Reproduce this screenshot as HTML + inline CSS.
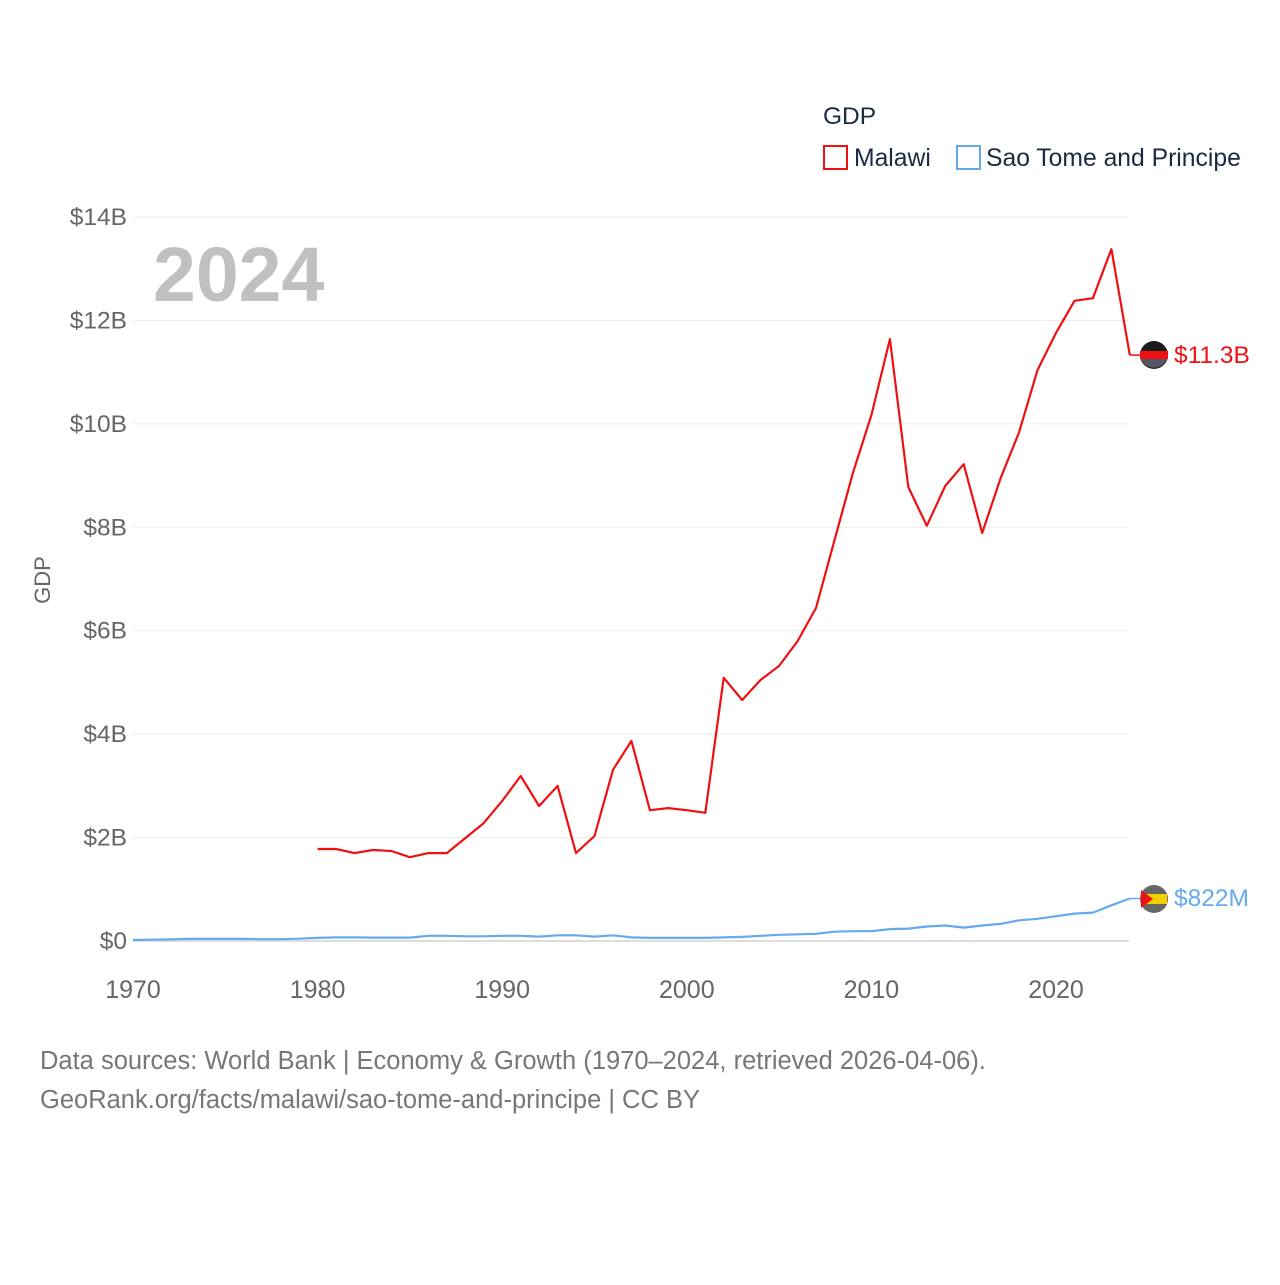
<!DOCTYPE html>
<html><head><meta charset="utf-8"><style>
body{margin:0;background:#fff;font-family:"Liberation Sans",sans-serif;}
svg text{font-family:"Liberation Sans",sans-serif;}
</style></head><body>
<svg width="1280" height="1280" xmlns="http://www.w3.org/2000/svg" id="chart">
<g id="grid"></g>
<g id="yticks"></g>
<g id="xticks"></g>
<text x="153" y="301" font-size="77" font-weight="bold" fill="#c0c0c0">2024</text>
<text transform="translate(50,580) rotate(-90)" text-anchor="middle" font-size="22" fill="#666">GDP</text>
<g>
<text x="823" y="124" font-size="24.5" fill="#1a2a44">GDP</text>
<g><rect x="824" y="146" width="23" height="23" fill="none" stroke="#ee1111" stroke-width="2"/><text x="854" y="166" font-size="24.7" fill="#1a2a44">Malawi</text></g>
<g><rect x="957" y="146" width="23" height="23" fill="none" stroke="#66aaee" stroke-width="2"/><text x="986" y="166" font-size="24.7" fill="#1a2a44">Sao Tome and Principe</text></g>
</g>
<g id="series"></g>
<g>
<g><circle cx="1154" cy="355" r="14" fill="#1b1b1b"/><rect x="1140" y="351" width="28" height="8" fill="#ee1111"/><path d="M1141 359 A14 14 0 0 0 1167 359Z" fill="#556"/></g>
<text x="1174" y="363" font-size="24.5" fill="#ee1111">$11.3B</text>
<g><circle cx="1154" cy="899" r="14" fill="#666"/><rect x="1141" y="894" width="26" height="10" fill="#f5d000"/><path d="M1141 890 L1153 899 L1141 908Z" fill="#ee1111"/></g>
<text x="1174" y="906" font-size="24.5" fill="#66aaee">$822M</text>
</g>
<text x="40" y="1069" font-size="25.5" fill="#777">Data sources: World Bank | Economy &amp; Growth (1970–2024, retrieved 2026-04-06).</text>
<text x="40" y="1108" font-size="25.5" fill="#777">GeoRank.org/facts/malawi/sao-tome-and-principe | CC BY</text>
</svg>
<script>
const yTickValues=[0,2,4,6,8,10,12,14];
const yTickLabels=["$0","$2B","$4B","$6B","$8B","$10B","$12B","$14B"];
const xTickYears=[1970,1980,1990,2000,2010,2020];
const malawiYears=[1980,1981,1982,1983,1984,1985,1986,1987,1988,1989,1990,1991,1992,1993,1994,1995,1996,1997,1998,1999,2000,2001,2002,2003,2004,2005,2006,2007,2008,2009,2010,2011,2012,2013,2014,2015,2016,2017,2018,2019,2020,2021,2022,2023,2024];
const malawiGDP=[1.78,1.78,1.70,1.76,1.74,1.62,1.70,1.70,1.99,2.28,2.71,3.19,2.61,3.00,1.70,2.03,3.31,3.87,2.53,2.57,2.53,2.48,5.09,4.66,5.05,5.32,5.80,6.44,7.75,9.05,10.17,11.64,8.78,8.03,8.80,9.22,7.89,8.95,9.84,11.04,11.76,12.38,12.43,13.38,11.33];
const stpYears=[1970,1971,1972,1973,1974,1975,1976,1977,1978,1979,1980,1981,1982,1983,1984,1985,1986,1987,1988,1989,1990,1991,1992,1993,1994,1995,1996,1997,1998,1999,2000,2001,2002,2003,2004,2005,2006,2007,2008,2009,2010,2011,2012,2013,2014,2015,2016,2017,2018,2019,2020,2021,2022,2023,2024];
const stpGDP=[0.02,0.025,0.03,0.04,0.04,0.04,0.04,0.035,0.035,0.045,0.06,0.07,0.07,0.065,0.065,0.065,0.10,0.10,0.09,0.09,0.10,0.10,0.085,0.11,0.11,0.085,0.11,0.07,0.06,0.06,0.06,0.06,0.07,0.08,0.10,0.12,0.13,0.14,0.18,0.19,0.19,0.23,0.24,0.28,0.30,0.26,0.30,0.33,0.40,0.43,0.48,0.53,0.55,0.69,0.822];
const NS="http://www.w3.org/2000/svg";
const x=y=>133+(y-1970)*18.46;
const yv=v=>941-v*51.71;
function mk(tag,attrs,parent,text){const e=document.createElementNS(NS,tag);for(const k in attrs)e.setAttribute(k,attrs[k]);if(text!==undefined)e.textContent=text;document.getElementById(parent).appendChild(e);return e;}
yTickValues.forEach((v,i)=>{
  const l=mk('line',{x1:133,x2:1129,y1:yv(v),y2:yv(v),stroke:i===0?'#ddd':'#eee','stroke-width':i===0?2:1},'grid');
  
  
  const t=mk('text',{x:127,y:yv(v)+8,'text-anchor':'end','font-size':24.5,fill:'#666'},'yticks',yTickLabels[i]);
  
  
});
xTickYears.forEach(yr=>{
  const t=mk('text',{x:x(yr),y:998,'text-anchor':'middle','font-size':25,fill:'#666'},'xticks',String(yr));
  
  
});
function line(years,vals,color,name){
  const d=years.map((yr,i)=>(i?'L':'M')+x(yr).toFixed(1)+' '+yv(vals[i]).toFixed(1)).join(' ');
  const p=mk('path',{d:d,fill:'none',stroke:color,'stroke-width':2.2,'stroke-linejoin':'round'},'series');
  
  
  const last=vals.length-1;
  mk('line',{x1:x(years[last]),x2:1140,y1:yv(vals[last]),y2:yv(vals[last]),stroke:color,'stroke-width':1.5},'series');
}
line(stpYears,stpGDP,'#66aaee','sao-tome-line');
line(malawiYears,malawiGDP,'#ee1111','malawi-line');
</script>
</body></html>
